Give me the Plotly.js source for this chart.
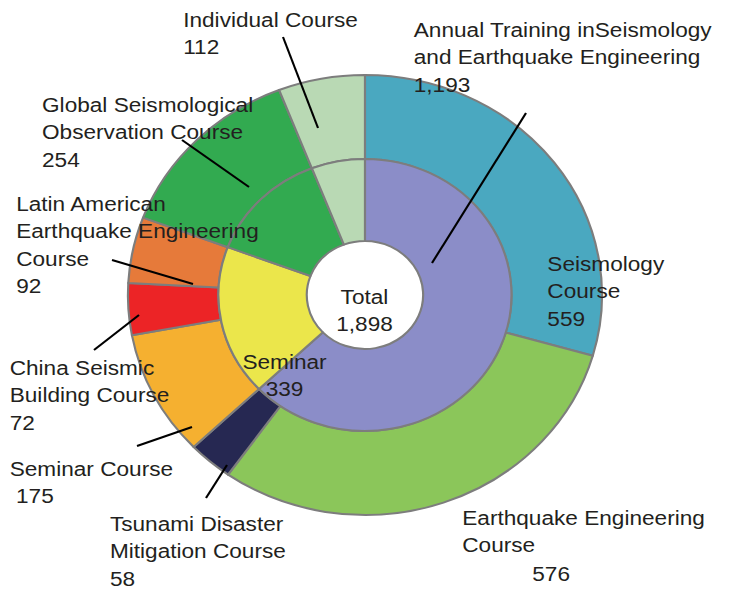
<!DOCTYPE html>
<html>
<head>
<meta charset="utf-8">
<script src="https://cdn.plot.ly/plotly-3.0.1.min.js"></script>
<style>
  html, body { margin: 0; padding: 0; background: #ffffff; overflow: hidden; }
  #chart { width: 697px; height: 591px; transform: scaleX(1.0775); transform-origin: 0 0; }
</style>
</head>
<body>
<div id="chart"></div>
<script>
// ---- data ----
const innerLabels = ['Annual Training in Seismology and Earthquake Engineering', 'Seminar', 'Global Seismological Observation Course', 'Individual Course'];
const innerValues = [1193, 339, 254, 112];
const innerColors = ['#8b8dc8', '#ebe64b', '#32aa50', '#b9d9b4'];

const outerLabels = ['Seismology Course', 'Earthquake Engineering Course', 'Tsunami Disaster Mitigation Course', 'Seminar Course', 'China Seismic Building Course', 'Latin American Earthquake Engineering Course', 'Global Seismological Observation Course (all)', 'Individual Course (all)'];
const outerValues = [559, 576, 58, 175, 72, 92, 254, 112];
const outerColors = ['#4aa8c0', '#8bc65a', '#262852', '#f5b030', '#ec2426', '#e67a3a', '#32aa50', '#b9d9b4'];

const totalValue = innerValues.reduce((a, b) => a + b, 0);
const fmt = v => v.toLocaleString('en-US');

// ---- traces ----
const borderLine = { color: '#7d7d7d', width: 2 };
const outerPie = {
  type: 'pie', labels: outerLabels, values: outerValues, sort: false,
  direction: 'clockwise', rotation: 0, hole: 0.618,
  marker: { colors: outerColors, line: borderLine },
  textinfo: 'none', hoverinfo: 'skip', showlegend: false,
  domain: { x: [0.1703, 0.8016], y: [0.1286, 0.8731] }
};
const innerPie = {
  type: 'pie', labels: innerLabels, values: innerValues, sort: false,
  direction: 'clockwise', rotation: 0, hole: 0.397,
  marker: { colors: innerColors, line: borderLine },
  textinfo: 'none', hoverinfo: 'skip', showlegend: false,
  domain: { x: [0.2908, 0.6811], y: [0.2707, 0.7310] }
};

// ---- labels (pixel positions of the reference, converted to paper fractions) ----
const W = 751, H = 591;
const px = x => x / W, py = y => 1 - y / H;
const txt = { family: 'Liberation Sans, Arial, sans-serif', size: 21, color: '#231f20' };

function ann(text, x, y, align) {
  return { text: text, x: px(x), y: py(y), xref: 'paper', yref: 'paper',
    xanchor: align === 'center' ? 'center' : 'left', yanchor: 'middle',
    align: align || 'left', showarrow: false, font: txt };
}

const annotations = [
  ann('Individual Course<br>' + fmt(innerValues[3]), 181, 33),
  ann('Annual Training inSeismology<br>and Earthquake Engineering<br>' + fmt(innerValues[0]), 412, 57),
  ann('Global Seismological<br>Observation Course<br>' + fmt(innerValues[2]), 40, 132),
  ann('Latin American<br>Earthquake Engineering<br>Course<br>' + fmt(outerValues[5]), 14, 244),
  ann('China Seismic<br>Building Course<br>' + fmt(outerValues[4]), 8, 395),
  ann('Seminar Course<br>&nbsp;' + fmt(outerValues[3]), 8, 482),
  ann('Tsunami Disaster<br>Mitigation Course<br>' + fmt(outerValues[2]), 108, 551),
  ann('Earthquake Engineering<br>Course', 460, 531),
  ann(fmt(outerValues[1]), 530, 573),
  ann('Seismology<br>Course<br>' + fmt(outerValues[0]), 545, 291),
  ann('Seminar<br>' + fmt(innerValues[1]), 284, 375, 'center'),
  ann('Total<br>' + fmt(totalValue), 365, 310, 'center')
];

function leader(x0, y0, x1, y1) {
  return { type: 'line', xref: 'paper', yref: 'paper', x0: px(x0), y0: py(y0), x1: px(x1), y1: py(y1),
    line: { color: '#000000', width: 2 }, layer: 'above' };
}
const shapes = [
  leader(283, 37, 318, 128),
  leader(526, 113, 432, 263),
  leader(182, 140, 249, 187),
  leader(112, 260, 193, 284),
  leader(94, 350, 139, 315),
  leader(137, 446, 192, 427),
  leader(206, 498, 227, 465)
];

const layout = {
  width: 697, height: 591,
  margin: { l: 0, r: 0, t: 0, b: 0 },
  paper_bgcolor: '#ffffff', plot_bgcolor: '#ffffff',
  showlegend: false,
  annotations: annotations,
  shapes: shapes
};

Plotly.newPlot('chart', [outerPie, innerPie], layout, { staticPlot: true, displayModeBar: false });
</script>
</body>
</html>
